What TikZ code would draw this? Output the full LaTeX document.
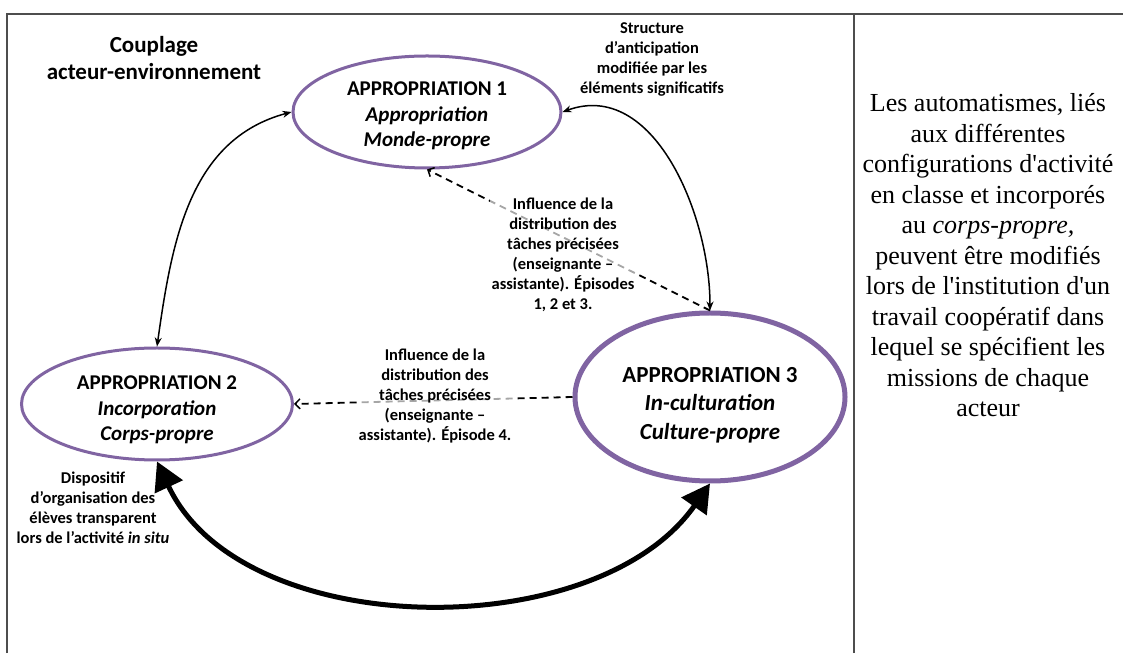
\documentclass[tikz,border=0pt]{standalone}
\usepackage{fontspec}
\setmainfont{Liberation Serif}[Ligatures=TeXOff]
\newfontfamily\tnr{Liberation Serif}[Ligatures=TeXOff]
\newfontfamily\cali{Carlito}
\usetikzlibrary{shapes.geometric,arrows.meta}
\definecolor{elpurple}{HTML}{8064A2}
\definecolor{framegray}{HTML}{4D4D4D}
\begin{document}
\begin{tikzpicture}[x=1pt,y=1pt,
  appr/.style={ellipse, draw=elpurple, inner sep=0pt},
  apprtext/.style={align=center, inner sep=0pt,
    font=\cali\bfseries\fontsize{21}{25.5}\selectfont},
  lbl/.style={align=center, inner sep=2pt,
    font=\cali\bfseries\fontsize{16.5}{20}\selectfont},
  veil/.style={fill=white, fill opacity=0.65, text opacity=1},
  dblarrow/.style={line width=1.5pt, {Stealth[length=9pt,width=7pt]}-{Stealth[length=9pt,width=7pt]}},
  dasharrow/.style={line width=1.8pt, dash pattern=on 7pt off 5pt,
    -{Straight Barb[length=5pt,width=10pt,line width=1.5pt]}},
  bigarrow/.style={line width=5pt, {Triangle[length=28pt,width=30pt]}-{Triangle[length=28pt,width=30pt]}},
  frameline/.style={draw=framegray, line width=1.5pt}
]
\useasboundingbox (0,0) rectangle (1123,653);

% table frame
\draw[frameline] (7,0) -- (7,639) -- (1123,639);
\draw[frameline] (854,0) -- (854,639);

% ellipses
\node[appr, line width=3pt, minimum width=268pt, minimum height=112pt] (e1) at (427,541) {};
\node[appr, line width=3pt, minimum width=271pt, minimum height=112pt] (e2) at (157,249) {};
\node[appr, line width=5pt, minimum width=270pt, minimum height=168pt] (e3) at (710,256) {};

\node[apprtext] (e1t) at (427,537)
  {APPROPRIATION 1\\\itshape Appropriation\\\itshape Monde-propre};
\node[apprtext] (e2t) at (157,243)
  {APPROPRIATION 2\\\itshape Incorporation\\\itshape Corps-propre};
\node[apprtext, font=\cali\bfseries\fontsize{23}{28.5}\selectfont] (e3t) at (710,248)
  {APPROPRIATION 3\\\itshape In-culturation\\\itshape Culture-propre};

% free labels
\node[lbl, font=\cali\bfseries\fontsize{23}{27}\selectfont] (coupl) at (154,594.5)
  {Couplage\\acteur-environnement};
\node[lbl] (struct) at (652,594)
  {Structure\\d’anticipation\\modifiée par les\\éléments significatifs};
\node[lbl] (disp) at (93,145.5)
  {Dispositif\\d’organisation des\\élèves transparent\\lors de l’activité \textit{in situ}};

% connectors
\draw[dblarrow] (e2.north) to[out=82, in=195] (e1.west);
\draw[dblarrow] (e1.east) to[out=20, in=90] (e3.north);
\draw[dasharrow] (e3.north) -- (e1.south);
\draw[dasharrow] (e3.west) -- (e2.east);
\draw[bigarrow] (e2.south) to[out=-65, in=235, looseness=0.92] (e3.south);

% labels on dashed connectors
\node[lbl, veil] (infl1) at (563,398)
  {Influence de la\\distribution des\\tâches précisées\\(enseignante –\\assistante). Épisodes\\1, 2 et 3.};
\node[lbl, veil] (infl2) at (435,256.5)
  {Influence de la\\distribution des\\tâches précisées\\(enseignante –\\assistante). Épisode 4.};

% right column text
\node[align=center, font=\tnr\fontsize{26}{30.5}\selectfont, inner sep=0pt] (rtext) at (988,397.5)
  {Les automatismes, liés\\aux différentes\\configurations d'activité\\en classe et incorporés\\au \textit{corps-propre,}\\peuvent être modifiés\\lors de l'institution d'un\\travail coopératif dans\\lequel se spécifient les\\missions de chaque\\acteur};
\end{tikzpicture}
\end{document}
